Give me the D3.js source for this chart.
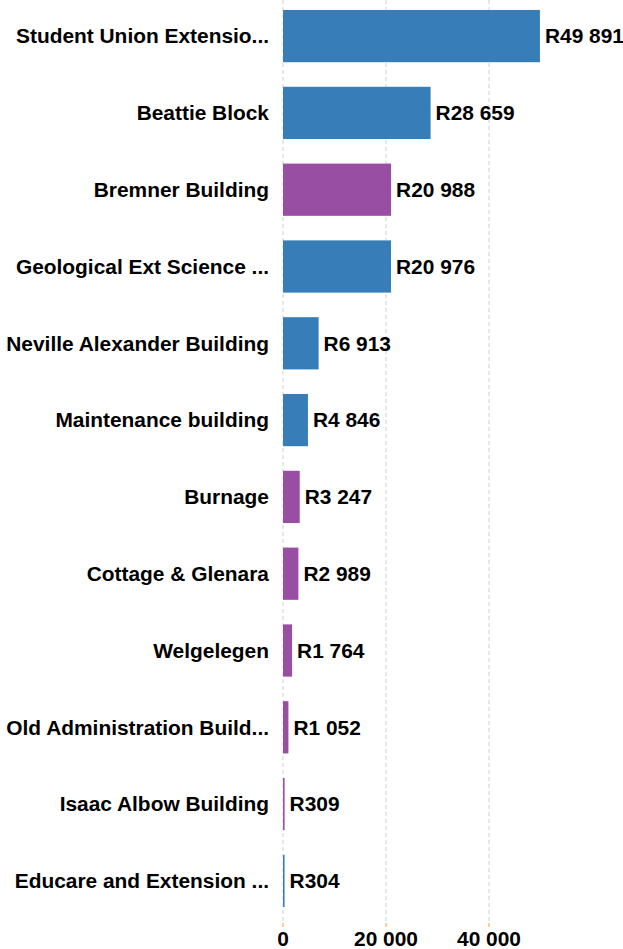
<!DOCTYPE html>
<html>

<head>
    <style>
        body {
            margin: 0;
            background: #fff;
        }

        text {
            font-family: "Liberation Sans", Arial, sans-serif;
            font-weight: bold;
            fill: #000;
        }

        .label {
            font-size: 20.9px;
        }
    </style>
    <script src="https://cdn.jsdelivr.net/npm/d3@7"></script>
</head>

<body>
    <script>
        const buildings = [
            "Student Union Extensio...",
            "Beattie Block",
            "Bremner Building",
            "Geological Ext Science ...",
            "Neville Alexander Building",
            "Maintenance building",
            "Burnage",
            "Cottage & Glenara",
            "Welgelegen",
            "Old Administration Build...",
            "Isaac Albow Building",
            "Educare and Extension ..."
        ];
        const amounts = [49891, 28659, 20988, 20976, 6913, 4846, 3247, 2989, 1764, 1052, 309, 304];
        const groups = ["a", "a", "b", "a", "a", "a", "b", "b", "b", "b", "b", "a"];
        const tickValues = [0, 20000, 40000];

        const w = 623;
        const h = 949;
        const left = 283;

        const color = d3.scaleOrdinal()
            .domain(["a", "b"])
            .range(["#377eb8", "#984ea3"]);

        const xScale = d3.scaleLinear()
            .domain([0, 20000])
            .range([left, left + 103]);

        const yScale = d3.scaleBand()
            .domain(buildings)
            .range([0, 917])
            .paddingInner(0.32)
            .paddingOuter(0.13);

        const fmt = (v) => d3.format(",")(v).replace(/,/g, " ");

        const svg = d3.select("body")
            .append("svg")
            .attr("width", w)
            .attr("height", h);

        // gridlines
        svg.selectAll("line.grid")
            .data(tickValues)
            .enter()
            .append("line")
            .attr("class", "grid")
            .attr("x1", (d) => xScale(d))
            .attr("x2", (d) => xScale(d))
            .attr("y1", 0)
            .attr("y2", 923)
            .attr("stroke", "#d0d0d0")
            .attr("stroke-width", 1)
            .attr("stroke-dasharray", "4,3");

        // small orange tick marks
        svg.selectAll("line.tick")
            .data(tickValues)
            .enter()
            .append("line")
            .attr("class", "tick")
            .attr("x1", (d) => xScale(d))
            .attr("x2", (d) => xScale(d))
            .attr("y1", 923)
            .attr("y2", 927)
            .attr("stroke", "#f59a3a")
            .attr("stroke-width", 1);

        svg.selectAll("text.tl")
            .data(tickValues)
            .enter()
            .append("text")
            .attr("class", "tl label")
            .attr("x", (d) => xScale(d))
            .attr("y", 946)
            .attr("text-anchor", "middle")
            .text((d) => fmt(d));

        const rows = buildings.map((b, i) => ({ name: b, value: amounts[i], group: groups[i] }));

        svg.selectAll("rect")
            .data(rows)
            .enter()
            .append("rect")
            .attr("x", xScale(0))
            .attr("y", (d) => yScale(d.name))
            .attr("width", (d) => xScale(d.value) - xScale(0))
            .attr("height", yScale.bandwidth())
            .attr("fill", (d) => color(d.group));

        svg.selectAll("text.cat")
            .data(rows)
            .enter()
            .append("text")
            .attr("class", "cat label")
            .attr("x", left - 14)
            .attr("y", (d) => yScale(d.name) + yScale.bandwidth() / 2)
            .attr("dy", "0.35em")
            .attr("text-anchor", "end")
            .text((d) => d.name);

        svg.selectAll("text.val")
            .data(rows)
            .enter()
            .append("text")
            .attr("class", "val label")
            .attr("x", (d) => xScale(d.value) + 5)
            .attr("y", (d) => yScale(d.name) + yScale.bandwidth() / 2)
            .attr("dy", "0.35em")
            .text((d) => "R" + fmt(d.value));
    </script>
</body>

</html>
